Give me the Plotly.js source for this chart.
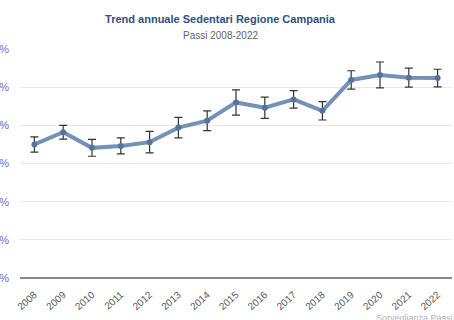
<!DOCTYPE html>
<html>
<head>
<meta charset="utf-8">
<script src="https://cdn.plot.ly/plotly-3.0.1.min.js"></script>
<style>html,body{margin:0;padding:0;background:#fff;}#chart{width:454px;height:320px;}</style>
</head>
<body>
<div id="chart"></div>
<script>
const years = ["2008","2009","2010","2011","2012","2013","2014","2015","2016","2017","2018","2019","2020","2021","2022"];
const sedentari = [35.0, 38.2, 34.1, 34.6, 35.6, 39.4, 41.2, 46.0, 44.6, 46.8, 43.8, 51.9, 53.2, 52.5, 52.4];
const errore = [2.0, 1.8, 2.2, 2.1, 2.8, 2.7, 2.6, 3.3, 2.8, 2.3, 2.4, 2.4, 3.4, 2.5, 2.3];
const yTicks = [0, 10, 20, 30, 40, 50, 60];
const yTickText = ["0%", "10%", "20%", "30%", "40%", "50%", "60%"];
const titolo = "Trend annuale Sedentari Regione Campania";
const sottotitolo = "Passi 2008-2022";
const fonte = "Sorveglianza Passi";

const trace = {
  x: years,
  y: sedentari,
  type: 'scatter',
  mode: 'lines+markers',
  line: {color: '#7492b9', width: 4},
  marker: {color: '#55749b', size: 6},
  error_y: {type: 'data', array: errore, visible: true, color: '#333333', thickness: 1.2, width: 4},
  hoverinfo: 'x+y'
};

const layout = {
  width: 454, height: 320,
  margin: {l: 20, r: 2, t: 49, b: 42},
  paper_bgcolor: '#ffffff', plot_bgcolor: '#ffffff',
  font: {family: 'Arial, "Liberation Sans", sans-serif'},
  showlegend: false,
  title: {
    text: '<b>' + titolo + '</b>',
    font: {size: 11, color: '#2b5282'},
    x: 220/454, xref: 'container', xanchor: 'center',
    y: 1 - 19/320, yref: 'container', yanchor: 'middle'
  },
  xaxis: {
    type: 'category',
    range: [-0.5, 14.5],
    showgrid: false, zeroline: false, showline: false,
    tickangle: -42,
    tickfont: {size: 10, color: '#555555'},
    ticks: '', ticklabelstandoff: 8, automargin: false
  },
  yaxis: {
    range: [0, 60],
    tickvals: yTicks, ticktext: yTickText,
    showgrid: true, gridcolor: '#e8e8e8', gridwidth: 1,
    zeroline: true, zerolinecolor: '#888888', zerolinewidth: 1.5,
    tickfont: {size: 11, color: '#6b6bd6'},
    ticks: '', ticklabelstandoff: 10, automargin: false
  },
  annotations: [
    {
      text: sottotitolo,
      xref: 'paper', yref: 'paper',
      x: (220 - 20) / 432, y: 1 + (49 - 35) / 229,
      xanchor: 'center', yanchor: 'middle', showarrow: false,
      font: {size: 10, color: '#666666'}
    },
    {
      text: fonte,
      xref: 'paper', yref: 'paper', x: 1.008, y: -(318 - 278) / 229,
      xanchor: 'right', yanchor: 'middle', showarrow: false,
      font: {size: 9, color: '#b0b0b0'}
    }
  ]
};

Plotly.newPlot('chart', [trace], layout, {displayModeBar: false, staticPlot: true});
</script>
</body>
</html>
